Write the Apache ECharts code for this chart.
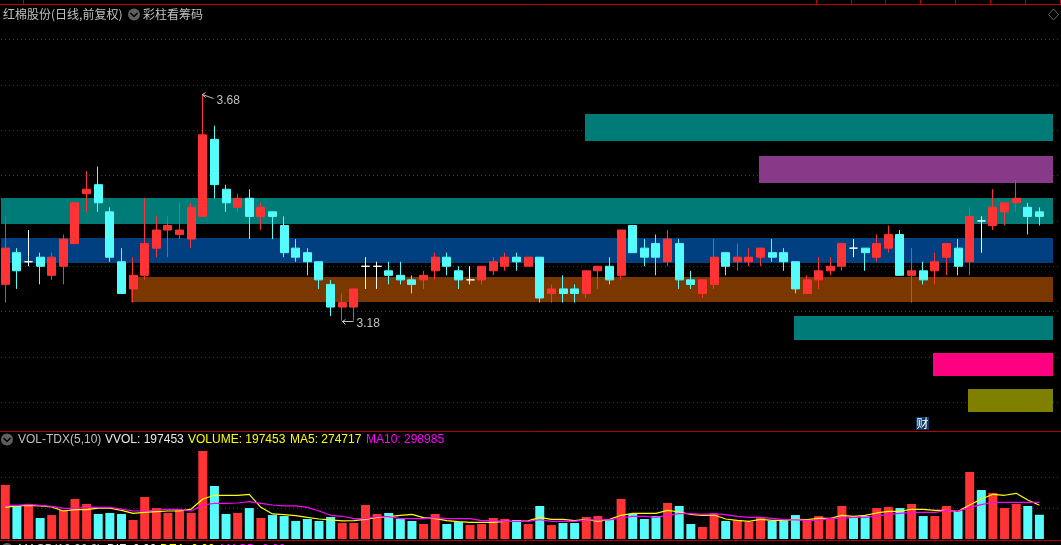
<!DOCTYPE html>
<html><head><meta charset="utf-8">
<style>html,body{margin:0;padding:0;background:#000;overflow:hidden}#c{width:1061px;height:545px}</style>
<script src="https://cdn.jsdelivr.net/npm/echarts@6/dist/echarts.min.js"></script>
</head><body><div id="c"></div>
<script>
const opens=[3.26,3.33,3.31,3.32,3.28,3.30,3.35,3.46,3.48,3.42,3.31,3.25,3.28,3.34,3.38,3.37,3.36,3.41,3.58,3.47,3.43,3.45,3.41,3.42,3.39,3.34,3.33,3.31,3.26,3.21,3.21,3.30,3.30,3.29,3.28,3.27,3.27,3.29,3.32,3.29,3.27,3.27,3.29,3.30,3.32,3.30,3.32,3.24,3.25,3.25,3.24,3.29,3.30,3.28,3.39,3.34,3.35,3.31,3.35,3.27,3.24,3.26,3.33,3.31,3.31,3.32,3.33,3.33,3.31,3.24,3.27,3.29,3.30,3.34,3.34,3.32,3.34,3.37,3.28,3.29,3.29,3.32,3.34,3.31,3.40,3.39,3.42,3.44,3.43,3.42];
const closes=[3.34,3.29,3.31,3.30,3.32,3.36,3.44,3.47,3.44,3.32,3.24,3.28,3.35,3.38,3.39,3.38,3.43,3.59,3.48,3.44,3.45,3.41,3.43,3.41,3.33,3.32,3.31,3.27,3.21,3.22,3.25,3.30,3.30,3.28,3.27,3.26,3.28,3.32,3.30,3.27,3.27,3.30,3.31,3.32,3.31,3.32,3.23,3.25,3.24,3.24,3.29,3.30,3.27,3.38,3.33,3.32,3.32,3.36,3.27,3.26,3.27,3.32,3.30,3.32,3.32,3.34,3.32,3.31,3.25,3.27,3.29,3.30,3.35,3.34,3.33,3.35,3.37,3.28,3.29,3.27,3.31,3.35,3.30,3.41,3.40,3.43,3.44,3.45,3.41,3.41];
const lows=[3.22,3.25,3.30,3.26,3.27,3.26,3.35,3.42,3.42,3.31,3.24,3.22,3.27,3.32,3.32,3.36,3.34,3.41,3.45,3.42,3.42,3.36,3.38,3.36,3.32,3.31,3.28,3.25,3.19,3.18,3.18,3.25,3.25,3.26,3.26,3.24,3.25,3.27,3.28,3.25,3.26,3.26,3.28,3.29,3.29,3.30,3.22,3.22,3.22,3.22,3.23,3.25,3.26,3.27,3.33,3.30,3.28,3.30,3.25,3.25,3.23,3.25,3.28,3.29,3.30,3.30,3.31,3.29,3.24,3.24,3.25,3.28,3.29,3.32,3.29,3.31,3.33,3.28,3.22,3.26,3.26,3.28,3.28,3.28,3.33,3.38,3.39,3.42,3.37,3.39];
const highs=[3.41,3.34,3.38,3.33,3.33,3.37,3.44,3.51,3.52,3.43,3.34,3.32,3.45,3.41,3.41,3.44,3.44,3.68,3.61,3.48,3.46,3.47,3.44,3.42,3.41,3.36,3.34,3.31,3.27,3.24,3.25,3.32,3.31,3.31,3.31,3.28,3.29,3.33,3.33,3.30,3.30,3.30,3.32,3.33,3.33,3.32,3.32,3.26,3.28,3.26,3.29,3.30,3.32,3.38,3.39,3.36,3.37,3.38,3.36,3.29,3.27,3.36,3.33,3.35,3.34,3.34,3.36,3.34,3.31,3.28,3.32,3.32,3.35,3.36,3.34,3.37,3.39,3.38,3.34,3.31,3.33,3.35,3.36,3.43,3.41,3.47,3.44,3.49,3.44,3.43];
const volumes=[440000,269000,277000,171000,195000,236000,326000,285000,204000,212000,204000,155000,342000,252000,212000,236000,212000,716000,432000,204000,212000,252000,171000,195000,187000,147000,163000,147000,179000,130000,130000,277000,204000,212000,163000,147000,122000,204000,122000,138000,114000,122000,171000,163000,155000,122000,269000,114000,130000,130000,179000,187000,155000,326000,204000,163000,187000,293000,269000,122000,98000,204000,147000,155000,138000,171000,147000,155000,195000,155000,187000,163000,269000,179000,187000,252000,261000,252000,285000,187000,187000,269000,228000,546000,399000,375000,252000,285000,269000,197453];
const ma5=[258000,269000,274000,269000,261000,228000,239000,239000,252000,252000,233000,209000,217000,223000,228000,228000,244000,326000,356000,356000,356000,364000,258000,204000,198000,190000,176000,163000,155000,147000,150000,160000,176000,182000,193000,201000,174000,166000,149000,141000,136000,136000,136000,144000,144000,147000,176000,160000,160000,149000,160000,144000,160000,193000,209000,209000,209000,233000,220000,201000,193000,195000,163000,152000,144000,160000,152000,152000,160000,157000,168000,168000,193000,185000,193000,212000,225000,225000,242000,242000,233000,233000,225000,277000,326000,364000,356000,372000,318000,274717];
const ma10=[274000,274000,282000,274000,266000,250000,250000,258000,258000,258000,244000,228000,228000,236000,242000,242000,228000,277000,290000,290000,293000,304000,290000,277000,269000,269000,258000,228000,193000,185000,166000,166000,182000,182000,166000,166000,166000,174000,166000,166000,166000,149000,149000,144000,144000,144000,157000,144000,144000,144000,155000,155000,155000,171000,185000,185000,176000,193000,206000,206000,201000,206000,198000,185000,176000,176000,168000,157000,155000,152000,152000,168000,168000,176000,176000,187000,201000,209000,217000,217000,217000,233000,225000,258000,280000,299000,299000,299000,299000,298985];
// horizontal chip bars: [from day, to day, low price, high price]
const bandNames=['teal1','blue','brown','teal2','purple','teal3','pink','olive'];
const bandFrom=[-0.3675,-0.3675,10.82,49.89,64.87,67.88,79.84,82.85];
const bandTo=[90.17,90.17,90.17,90.17,90.17,90.17,90.17,90.17];
const bandLow=[3.393,3.3065,3.2205,3.5757,3.483,3.1367,3.0575,2.9781];
const bandHigh=[3.45,3.3617,3.2756,3.635,3.5425,3.1896,3.108,3.0287];
const bandColors=['#007b77','#004080','#7a3800','#007b77','#873a87','#007b77','#ff0080','#808000'];
const extremeDays=[17,29];
const extremePrices=[3.68,3.18];
const topTicks=[23,816,851,885,920,955,990,1025,1060];

const RED='#ff3333',CYAN='#54fcfc',GREY='#c0c0c0',LINE='#b00000';
const days=opens.map((_,i)=>i);
const candles=days.map(i=>[i,opens[i],closes[i],lows[i],highs[i]]);
const volData=days.map(i=>{
  const up=closes[i]>opens[i]||(closes[i]===opens[i]&&(i===0||closes[i]>=closes[i-1]));
  return {value:[i,volumes[i]],itemStyle:{color:up?RED:CYAN}};
});
const dotted={show:true,lineStyle:{color:'#9a1010',type:[1,3],width:1}};
const xBase={type:'value',min:-0.3675,max:90.6,axisLine:{show:false},axisTick:{show:false},axisLabel:{show:false},splitLine:{show:false}};
const yBase={axisLine:{show:false},axisTick:{show:false},axisLabel:{show:false}};

function chevron(cx,cy){return [
 {type:'circle',shape:{cx:cx,cy:cy,r:6},style:{fill:'#5f5f5f'}},
 {type:'polyline',shape:{points:[[cx-3.5,cy-1.5],[cx,cy+2],[cx+3.5,cy-1.5]]},style:{stroke:'#000',fill:null,lineWidth:1.5}}
];}
function txt(x,y,s,color,font){return {type:'text',x:x,y:y,style:{text:s,fill:color,font:font||'12px "Liberation Sans"',textVerticalAlign:'middle',textBaseline:'middle'}};}
const CJK='12px "Noto Sans CJK SC"';
const deco=[
 {type:'line',shape:{x1:0,y1:4.5,x2:1061,y2:4.5},style:{stroke:'#c00000',lineWidth:1}},
 ...topTicks.map(x=>({type:'line',shape:{x1:x+0.5,y1:0,x2:x+0.5,y2:4},style:{stroke:'#c00000',lineWidth:1}})),
 {type:'line',shape:{x1:0,y1:431.5,x2:1061,y2:431.5},style:{stroke:LINE,lineWidth:1}},
 {type:'line',shape:{x1:0,y1:540.5,x2:1061,y2:540.5},style:{stroke:LINE,lineWidth:1}},
 txt(3,14.5,'红棉股份(日线,前复权)',GREY,CJK),
 ...chevron(134,14.5),
 txt(143,14.5,'彩柱看筹码',GREY,CJK),
 {type:'polygon',shape:{points:[[1053.5,9],[1058.5,14.5],[1053.5,20],[1048.5,14.5]]},style:{stroke:'#666',fill:null,lineWidth:1}},
 {type:'rect',shape:{x:916,y:417,width:13,height:13},style:{fill:'#0b3a66'}},
 txt(916.5,423.5,'财','#fff',CJK),
 ...chevron(7,439.5),
 txt(18,439.5,'VOL-TDX(5,10)',GREY),
 txt(105,439.5,'VVOL: 197453','#e8e8e8'),
 txt(188,439.5,'VOLUME: 197453','#ffff00'),
 txt(290,439.5,'MA5: 274717','#ffff00'),
 txt(366,439.5,'MA10: 298985','#ff00ff'),
 ...chevron(7,549),
 txt(18,549.5,'MACD(12,26,9)',GREY),
 txt(107,549.5,'DIF: 0.00','#e8e8e8'),
 txt(160,549.5,'DEA: 0.00','#ffff00'),
 txt(220,549.5,'MACD: 0.00','#ff00ff')
];
const chart=echarts.init(document.getElementById('c'),null,{renderer:'canvas'});
chart.setOption({
 animation:false,backgroundColor:'#000',
 grid:[{left:1,width:1057,top:39.6,height:362.67},{left:1,width:1057,top:446.9,height:92.1}],
 xAxis:[{...xBase,gridIndex:0},{...xBase,gridIndex:1}],
 yAxis:[
  {...yBase,type:'value',gridIndex:0,min:3.0,max:3.8,interval:0.1,splitLine:dotted},
  {...yBase,type:'value',gridIndex:1,min:0,max:750000,interval:250000,splitLine:{...dotted,showMinLine:false,showMaxLine:false}}
 ],
 graphic:{elements:deco},
 series:[
  {type:'custom',name:'chips',xAxisIndex:0,yAxisIndex:0,z:1,silent:true,clip:false,
   data:bandNames.map((n,i)=>[bandFrom[i],bandTo[i],bandLow[i],bandHigh[i],i]),
   encode:{x:[0,1],y:[2,3]},
   renderItem:(p,api)=>{
    const a=api.coord([api.value(0),api.value(3)]),b=api.coord([api.value(1),api.value(2)]);
    return {type:'rect',shape:{x:Math.round(a[0]),y:Math.round(a[1]),width:Math.round(b[0])-Math.round(a[0]),height:Math.round(b[1])-Math.round(a[1])},style:{fill:bandColors[api.value(4)]}};
   }},
  {type:'candlestick',name:'K',xAxisIndex:0,yAxisIndex:0,z:2,barWidth:8.5,clip:false,
   data:candles,
   itemStyle:{color:RED,color0:CYAN,borderColor:RED,borderColor0:CYAN,borderColorDoji:'#fff',borderWidth:1}},
  {type:'custom',name:'extremes',xAxisIndex:0,yAxisIndex:0,z:3,silent:true,clip:false,
   data:extremeDays.map((d,i)=>[d,extremePrices[i],i]),
   encode:{x:0,y:1},
   renderItem:(p,api)=>{
    const c=api.coord([api.value(0),api.value(1)]);
    const x=Math.floor(c[0])+0.5,y=Math.round(c[1])+0.5,hi=api.value(2)===0;
    const pts=hi?[[x,y],[x+11,y+4]]:[[x,y],[x+11,y]];
    return {type:'group',children:[
     {type:'polyline',shape:{points:pts},style:{stroke:GREY,fill:null,lineWidth:1}},
     {type:'polyline',shape:{points:[[x+3,y-2],[x,y],[x+3,y+3]]},style:{stroke:GREY,fill:null,lineWidth:1}},
     {type:'text',x:x+14,y:y+(hi?6:2),style:{text:api.value(1).toFixed(2),fill:GREY,font:'12px "Liberation Sans"',textVerticalAlign:'middle',textBaseline:'middle'}}
    ]};
   }},
  {type:'bar',name:'VOLUME',xAxisIndex:1,yAxisIndex:1,barWidth:9,z:2,data:volData},
  {type:'line',name:'MA5',xAxisIndex:1,yAxisIndex:1,z:4,showSymbol:false,symbol:'none',data:days.map(i=>[i,ma5[i]]),lineStyle:{color:'#ffff00',width:1.2}},
  {type:'line',name:'MA10',xAxisIndex:1,yAxisIndex:1,z:5,showSymbol:false,symbol:'none',data:days.map(i=>[i,ma10[i]]),lineStyle:{color:'#ff00ff',width:1.2}}
 ]
});
</script></body></html>
